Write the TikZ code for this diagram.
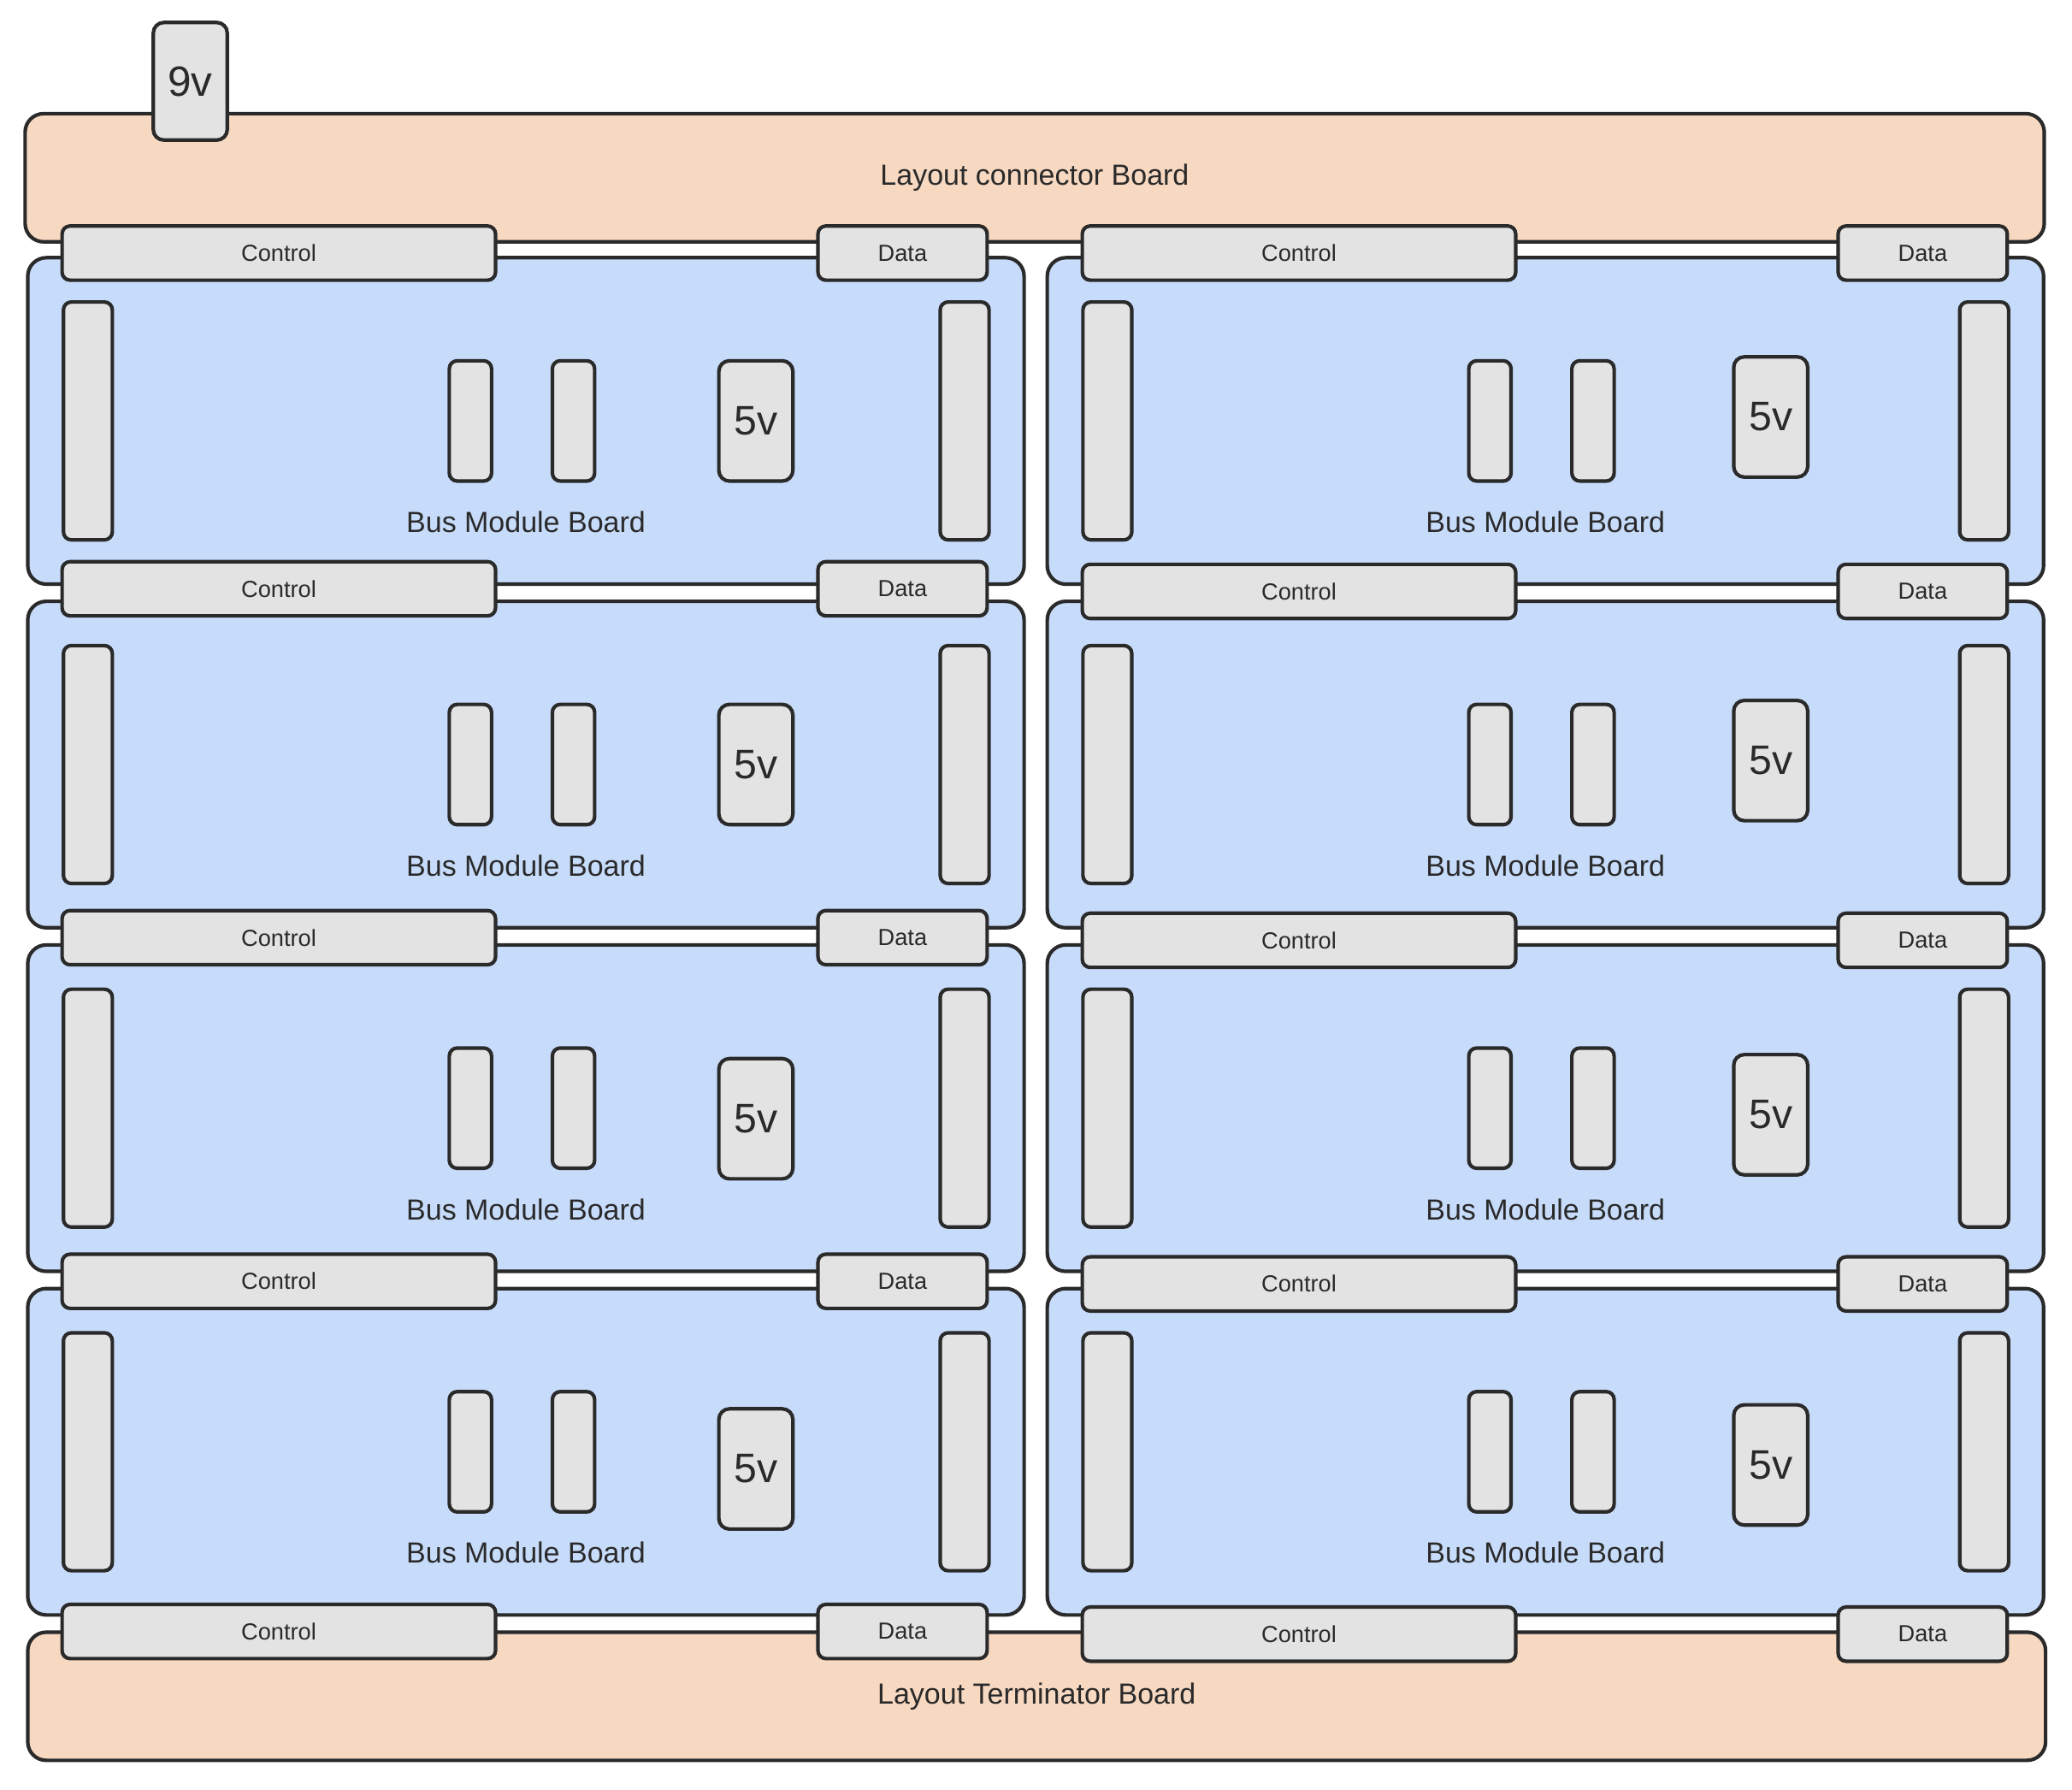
\documentclass[tikz,border=0pt]{standalone}
\usepackage{fontspec}
\setmainfont{Liberation Sans}
\usetikzlibrary{calc}
\definecolor{peach}{HTML}{F7D8C1}
\definecolor{boardblue}{HTML}{C7DBFA}
\definecolor{partgray}{HTML}{E3E3E3}
\definecolor{ink}{HTML}{2A2A2A}
\begin{document}
\begin{tikzpicture}[x=1pt,y=-1pt,
  base/.style={draw=ink, line width=1.35pt, rectangle, inner sep=0pt, anchor=center, text=ink},
  board/.style={base, rounded corners=7pt, fill=peach, font=\fontsize{11}{13}\selectfont},
  module/.style={base, rounded corners=7pt, fill=boardblue, minimum width=377pt, minimum height=123.5pt},
  part/.style={base, rounded corners=3pt, fill=partgray},
  tallbar/.style={part, minimum width=18.5pt, minimum height=90pt},
  smallbar/.style={part, minimum width=16pt, minimum height=45.5pt},
  volt/.style={part, rounded corners=4pt, minimum width=28pt, minimum height=45.5pt, font=\fontsize{15.6}{18}\selectfont},
  conn/.style={part, minimum height=20.5pt, font=\fontsize{8.8}{10}\selectfont},
  modlabel/.style={inner sep=0pt, text=ink, font=\fontsize{11}{13}\selectfont}]
\useasboundingbox (0,0) rectangle (784,677);
\fill[white] (0,0) rectangle (784,677);

% outer boards
\node[board, minimum width=764pt, minimum height=48.5pt] (topboard) at (391.5,67.25) {Layout connector Board};
\node[board, minimum width=763.5pt, minimum height=48.5pt] (bottomboard) at (392.25,641.75) {Layout Terminator Board};
\node[volt, minimum height=44.5pt, font=\fontsize{16}{18}\selectfont] (nine) at (72,30.75) {9v};

% bus module boards
\foreach \c/\mx/\vx/\vy in {L/199/87/0, R/584.75/85.25/-1.5} {
  \foreach \r/\rv in {1/0, 2/0, 3/4, 4/6.5} {
    \pgfmathsetmacro\my{159.25+130*(\r-1)}
    \pgfmathsetmacro\vv{\vy+\rv}
    \node[module] (mod-\c\r) at (\mx,\my) {};
    \node[tallbar]  (lbar-\c\r) at ($(mod-\c\r.center)+(-165.75,0)$) {};
    \node[tallbar]  (rbar-\c\r) at ($(mod-\c\r.center)+(166,0)$) {};
    \node[smallbar] (sa-\c\r)   at ($(mod-\c\r.center)+(-21,0)$) {};
    \node[smallbar] (sb-\c\r)   at ($(mod-\c\r.center)+(18,0)$) {};
    \node[volt]     (five-\c\r) at ($(mod-\c\r.center)+(\vx,\vv)$) {5v};
    \node[modlabel] (lab-\c\r)  at ($(mod-\c\r.center)+(0,38.25)$) {Bus Module Board};
  }
}

% control / data connectors
\foreach \c/\cx/\dx/\dy in {L/105.5/341.5/0, R/491.5/727.5/1} {
  \foreach \k/\ky in {0/95.75, 1/222.75, 2/354.75, 3/484.75, 4/617.25} {
    \pgfmathsetmacro\yy{\ky+(\k>0)*\dy}
    \node[conn, minimum width=164pt] (ctl-\c\k) at (\cx,\yy) {Control};
    \node[conn, minimum width=64pt]  (dat-\c\k) at (\dx,\yy) {Data};
  }
}
\end{tikzpicture}
\end{document}
